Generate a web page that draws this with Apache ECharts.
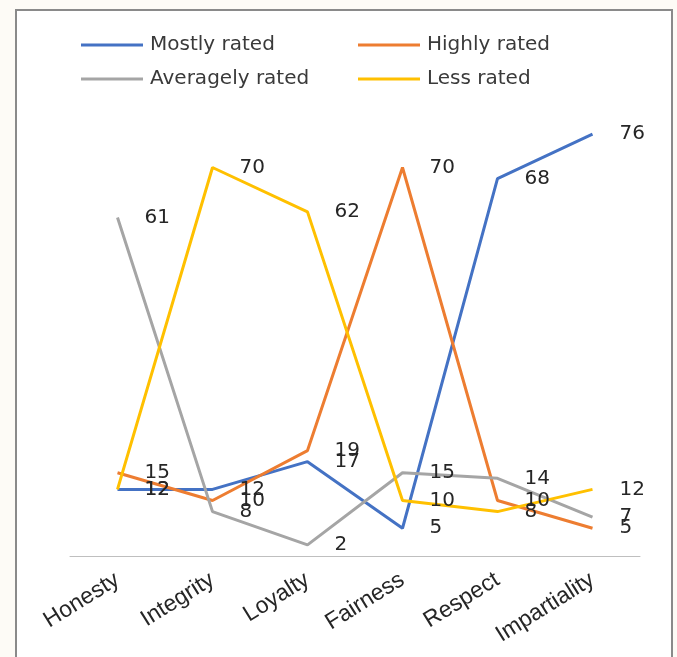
<!DOCTYPE html>
<html>
<head>
<meta charset="utf-8">
<script src="https://cdn.jsdelivr.net/npm/echarts@6/dist/echarts.min.js"></script>
<style>
  html, body { margin: 0; padding: 0; background: #fdfbf6; }
  #chart { width: 677px; height: 657px; }
</style>
</head>
<body>
<div id="chart"></div>
<script>
// Ratings of six values, one line per rating level
const categories = ['Honesty', 'Integrity', 'Loyalty', 'Fairness', 'Respect', 'Impartiality'];
const mostlyRated    = [12, 12, 17, 5, 68, 76];
const highlyRated    = [15, 10, 19, 70, 10, 5];
const averagelyRated = [61, 8, 2, 15, 14, 7];
const lessRated      = [12, 70, 62, 10, 8, 12];

const seriesNames = ['Mostly rated', 'Highly rated', 'Averagely rated', 'Less rated'];
const seriesData = [mostlyRated, highlyRated, averagelyRated, lessRated];
const colors = ['#4472C4', '#ED7D31', '#A5A5A5', '#FFC000'];

const textFont = 'DejaVu Sans';

const chart = echarts.init(document.getElementById('chart'), null, { renderer: 'canvas' });

function legendAt(name, left, top) {
  return {
    data: [name],
    left: left,
    top: top,
    itemWidth: 62,
    itemHeight: 12,
    itemGap: 0,
    icon: 'path://M0,5 L62,5 L62,8 L0,8 Z',
    textStyle: { fontFamily: textFont, fontSize: 20, color: '#3a3a3a', padding: [0, 0, 0, 2] }
  };
}

chart.setOption({
  backgroundColor: '#fdfbf6',
  animation: false,
  color: colors,
  graphic: [{
    type: 'rect',
    z: -10,
    silent: true,
    shape: { x: 16, y: 10, width: 656, height: 660 },
    style: { fill: '#ffffff', stroke: '#8a8a8a', lineWidth: 2 }
  }],
  legend: [
    legendAt(seriesNames[0], 76, 30),
    legendAt(seriesNames[1], 353, 30),
    legendAt(seriesNames[2], 76, 64),
    legendAt(seriesNames[3], 353, 64)
  ],
  grid: { left: 70, right: 37, top: 112, bottom: 101, containLabel: false },
  xAxis: {
    type: 'category',
    data: categories,
    boundaryGap: true,
    axisLine: { lineStyle: { color: '#bfbfbf', width: 1 } },
    axisTick: { show: false },
    axisLabel: {
      rotate: 32,
      margin: 22,
      interval: 0,
      fontFamily: 'Liberation Sans',
      fontSize: 23,
      color: '#262626'
    }
  },
  yAxis: {
    type: 'value',
    min: 0,
    max: 80,
    show: false,
    splitLine: { show: false }
  },
  series: seriesNames.map((name, i) => ({
    name: name,
    type: 'line',
    data: seriesData[i],
    symbol: 'circle',
    symbolSize: 0,
    showSymbol: true,
    lineStyle: { width: 3, color: colors[i] },
    itemStyle: { color: colors[i] },
    labelLayout: { hideOverlap: false },
    label: {
      show: true,
      position: 'right',
      distance: 27,
      fontFamily: textFont,
      fontSize: 20,
      color: '#262626'
    }
  }))
});
</script>
</body>
</html>
